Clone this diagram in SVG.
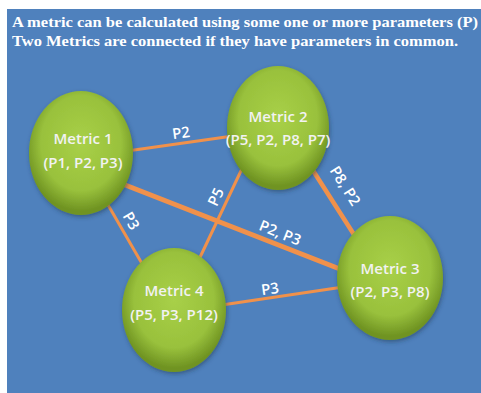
<svg xmlns="http://www.w3.org/2000/svg" width="481" height="393" viewBox="0 0 481 393">
<defs>
<radialGradient id="g" cx="50%" cy="42%" r="55%">
<stop offset="0" stop-color="#A8D048"/>
<stop offset="0.7" stop-color="#99C13C"/>
<stop offset="1" stop-color="#6F9322"/>
</radialGradient>
<filter id="sh" x="-20%" y="-20%" width="140%" height="140%">
<feDropShadow dx="1" dy="2" stdDeviation="2" flood-color="#1F3550" flood-opacity="0.5"/>
</filter>
<style>
.title{font-family:"Liberation Serif",serif;font-weight:bold;font-size:15px;fill:#FFFFFF}
.node ellipse{fill:url(#g);filter:url(#sh)}
.node text{font-family:"Open Sans","Liberation Sans",sans-serif;font-weight:600;font-size:15px;fill:#F2F2F2;text-anchor:middle}
.edge{stroke:#F0914B;stroke-linecap:round;fill:none}
.lbl{font-family:"Open Sans","Liberation Sans",sans-serif;font-weight:600;font-size:15px;fill:#FFFFFF;text-anchor:middle}
</style>
</defs>
<rect x="7" y="9" width="474" height="384" fill="#4F81BD"/>
<text class="title" x="12" y="27" textLength="466" lengthAdjust="spacingAndGlyphs">A metric can be calculated using some one or more parameters (P)</text>
<text class="title" x="12" y="46" textLength="446" lengthAdjust="spacingAndGlyphs">Two Metrics are connected if they have parameters in common.</text>
<g id="connectors">
<line class="edge" x1="120" y1="152" x2="240" y2="135" stroke-width="3"/>
<line class="edge" x1="115" y1="181" x2="350" y2="273" stroke-width="5"/>
<line class="edge" x1="100" y1="191" x2="148" y2="274" stroke-width="3"/>
<line class="edge" x1="248" y1="156" x2="194" y2="270" stroke-width="3"/>
<line class="edge" x1="305" y1="158" x2="360" y2="244" stroke-width="4.5"/>
<line class="edge" x1="215" y1="306" x2="350" y2="286" stroke-width="3"/>
<text class="lbl" transform="translate(181,133) rotate(-8)" y="5">P2</text>
<text class="lbl" transform="translate(280,233) rotate(22)" y="5">P2, P3</text>
<text class="lbl" transform="translate(131,221) rotate(60)" y="5">P3</text>
<text class="lbl" transform="translate(216,197) rotate(-65)" y="5">P5</text>
<text class="lbl" transform="translate(345,186) rotate(58)" y="5">P8, P2</text>
<text class="lbl" transform="translate(270,289) rotate(-8)" y="5">P3</text>
</g>
<g id="metric1" class="node">
<ellipse cx="81" cy="153" rx="52" ry="62"/>
<text x="83" y="144">Metric 1</text>
<text x="83" y="168">(P1, P2, P3)</text>
</g>
<g id="metric2" class="node">
<ellipse cx="278" cy="128" rx="51" ry="62"/>
<text x="278" y="122">Metric 2</text>
<text x="278" y="145">(P5, P2, P8, P7)</text>
</g>
<g id="metric3" class="node">
<ellipse cx="390" cy="278" rx="53" ry="62"/>
<text x="390" y="274">Metric 3</text>
<text x="390" y="297">(P2, P3, P8)</text>
</g>
<g id="metric4" class="node">
<ellipse cx="174" cy="310" rx="52" ry="62"/>
<text x="174" y="296">Metric 4</text>
<text x="174" y="320">(P5, P3, P12)</text>
</g>
</svg>
